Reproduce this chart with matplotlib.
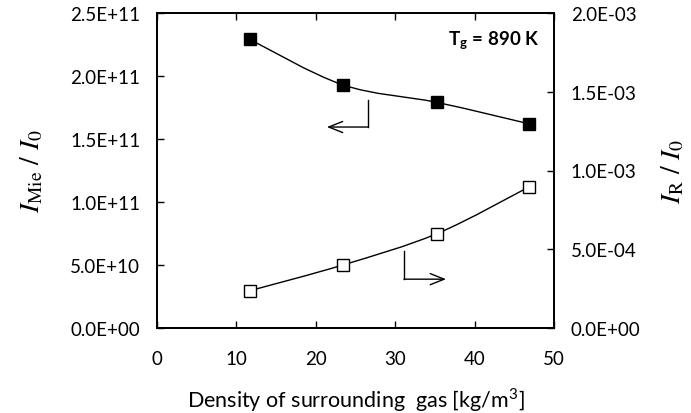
import matplotlib
matplotlib.use("Agg")
import matplotlib.pyplot as plt
import numpy as np
from matplotlib.path import Path
from matplotlib.patches import PathPatch

# data
density = [11.7, 23.4, 35.3, 46.9]
mie = [2.29e11, 1.93e11, 1.79e11, 1.62e11]
rayleigh = [2.37e-4, 4.0e-4, 6.0e-4, 8.97e-4]

x_ticks = [0, 10, 20, 30, 40, 50]
left_ticks = [0, 0.5e11, 1.0e11, 1.5e11, 2.0e11, 2.5e11]
left_labels = ["0.0E+00", "5.0E+10", "1.0E+11", "1.5E+11", "2.0E+11", "2.5E+11"]
right_ticks = [0, 0.5e-3, 1.0e-3, 1.5e-3, 2.0e-3]
right_labels = ["0.0E+00", "5.0E-04", "1.0E-03", "1.5E-03", "2.0E-03"]

plt.rcParams['font.family'] = ['Lato', 'DejaVu Sans']
plt.rcParams['mathtext.fontset'] = 'stix'


def smooth_path(xs, ys, t=1/6):
    # Catmull-Rom style bezier, like Excel smoothed lines
    xs = np.asarray(xs, float)
    ys = np.asarray(ys, float)
    verts = [(xs[0], ys[0])]
    codes = [Path.MOVETO]
    n = len(xs)
    for i in range(n - 1):
        p0 = i - 1 if i > 0 else i
        p3 = i + 2 if i + 2 < n else i + 1
        c1 = (xs[i] + (xs[i + 1] - xs[p0]) * t, ys[i] + (ys[i + 1] - ys[p0]) * t)
        c2 = (xs[i + 1] - (xs[p3] - xs[i]) * t, ys[i + 1] - (ys[p3] - ys[i]) * t)
        verts += [c1, c2, (xs[i + 1], ys[i + 1])]
        codes += [Path.CURVE4] * 3
    return Path(verts, codes)


fig = plt.figure(figsize=(6.91, 4.14), dpi=100)
ax = fig.add_axes([157 / 691, 1 - 329 / 414, (554 - 157) / 691, (329 - 14) / 414])
ax2 = ax.twinx()

ax.add_patch(PathPatch(smooth_path(density, mie), fc="none", ec="black", lw=1.0, zorder=2))
ax.plot(density, mie, ls="none", marker="s", ms=8.5, mfc="black", mec="black", zorder=3)

ax2.add_patch(PathPatch(smooth_path(density, rayleigh), fc="none", ec="black", lw=1.0, zorder=2))
ax2.plot(density, rayleigh, ls="none", marker="s", ms=8.5, mfc="white", mec="black", mew=1.0, zorder=3)

ax.set_xlim(0, 50)
ax.set_ylim(0, 2.5e11)
ax2.set_ylim(0, 2.0e-3)

ax.set_xticks(x_ticks)
ax.set_xticklabels([str(v) for v in x_ticks])
ax.set_yticks(left_ticks)
ax.set_yticklabels(left_labels)
ax2.set_yticks(right_ticks)
ax2.set_yticklabels(right_labels)

ax.tick_params(axis="both", direction="in", length=5, width=1.0, labelsize=13.5, pad=12)
ax.tick_params(axis="x", top=True, pad=16)
ax2.tick_params(axis="y", direction="in", length=5, width=1.0, labelsize=13.5, pad=12)
for a in (ax, ax2):
    for s in a.spines.values():
        s.set_linewidth(1.3)

ax.set_xlabel("Density of surrounding  gas [kg/m$^\\mathregular{3}$]", fontsize=15.5, labelpad=13)
ax.set_ylabel(r"$I_{\mathrm{Mie}}\ /\ I_0$", fontsize=20, labelpad=18)
ax2.set_ylabel(r"$I_{\mathrm{R}}\ /\ I_0$", fontsize=20, labelpad=14, rotation=90)

ax.text(36.6, 2.285e11, r"T$_\mathregular{g}$ = 890 K", fontsize=13.5, fontweight="bold", va="center")

# arrows pointing at the axes
ax.plot([26.6, 26.6], [1.81e11, 1.595e11], color="black", lw=1.0)
ax.annotate("", xy=(21.4, 1.595e11), xytext=(26.6, 1.595e11),
            arrowprops=dict(arrowstyle="->,head_length=1.0,head_width=0.4", lw=1.0, color="black",
                            shrinkA=0, shrinkB=0))
ax2.plot([31.1, 31.1], [0.49e-3, 0.31e-3], color="black", lw=1.0)
ax2.annotate("", xy=(36.4, 0.31e-3), xytext=(31.1, 0.31e-3),
             arrowprops=dict(arrowstyle="->,head_length=1.0,head_width=0.4", lw=1.0, color="black",
                             shrinkA=0, shrinkB=0))

fig.savefig("out.png", dpi=100)
